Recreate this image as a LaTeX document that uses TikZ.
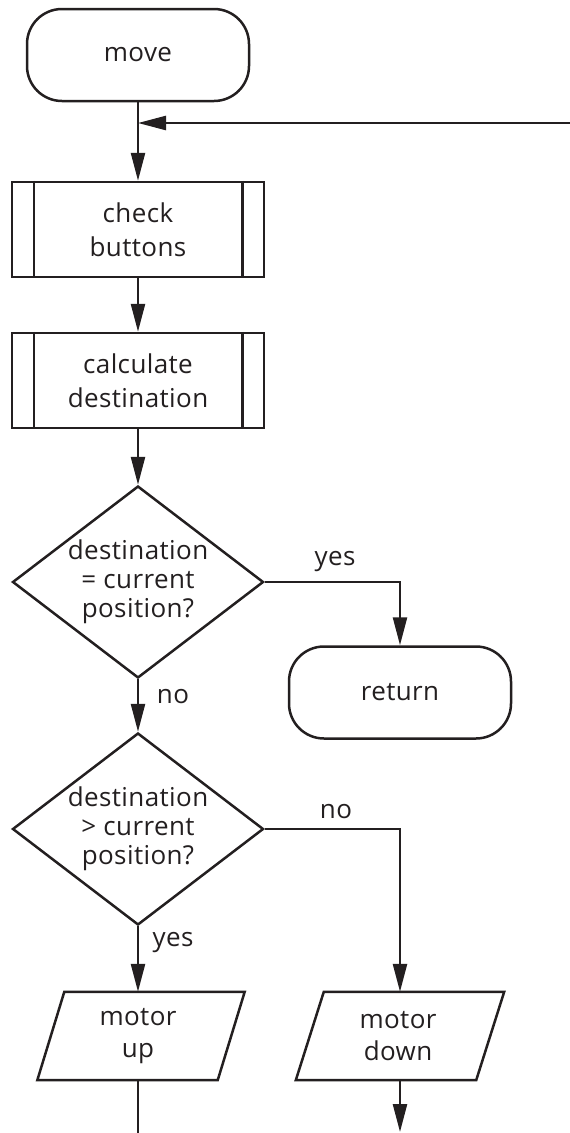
\documentclass[tikz,border=0pt]{standalone}
\usepackage{fontspec}
\setmainfont{Open Sans}[LetterSpace=1.5]
\usetikzlibrary{shapes.geometric,arrows.meta}
\definecolor{ink}{HTML}{231F20}
\tikzset{
  ln/.style={draw=ink, line width=2.5pt},
  arr/.style={ln, -{Triangle[length=28pt,width=14pt]}},
  txt/.style={text=ink, align=center, font=\fontsize{26}{34}\selectfont},
  term/.style={txt, ln, rectangle, rounded corners=35pt, minimum width=222pt, minimum height=92pt, inner sep=0pt},
  proc/.style={txt, ln, rectangle, minimum width=252pt, minimum height=95pt, inner sep=0pt},
  decision/.style={ln, diamond, minimum width=251pt, minimum height=192pt, inner sep=0pt},
  dtext/.style={txt, font=\fontsize{26}{29}\selectfont, inner sep=0pt},
  iotext/.style={txt, font=\fontsize{26}{32}\selectfont, inner sep=0pt},
  iobox/.style={rectangle, minimum width=180pt, minimum height=88pt, inner sep=0pt},
  lbl/.style={text=ink, font=\fontsize{26}{29}\selectfont, inner sep=0pt}
}
\begin{document}
\begin{tikzpicture}[x=1pt,y=-1pt]
\useasboundingbox (0,0) rectangle (570,1133);
% nodes
\node[term] (move) at (138,55) {move};
\node[proc] (check) at (138,229.5) {check\\buttons};
\node[proc] (calc) at (138,380.5) {calculate\\destination};
\node[decision] (d1) at (138,582) {};
\node[dtext] (d1t) at (138,582) {destination\\= current\\position?};
\node[term] (ret) at (400,692.5) {return};
\node[decision] (d2) at (138,829) {};
\node[dtext] (d2t) at (138,829) {destination\\> current\\position?};
\node[iobox] (mu) at (141,1036) {};
\node[iotext] (mut) at (138,1036) {motor\\up};
\node[iobox] (md) at (400,1036) {};
\node[iotext] (mdt) at (398,1036) {motor\\down};
% parallelograms
\draw[ln] ([xshift=13.5pt]mu.north west) -- ([xshift=13.5pt]mu.north east)
  -- ([xshift=-13.5pt]mu.south east) -- ([xshift=-13.5pt]mu.south west) -- cycle;
\draw[ln] ([xshift=14pt]md.north west) -- ([xshift=14pt]md.north east)
  -- ([xshift=-14pt]md.south east) -- ([xshift=-14pt]md.south west) -- cycle;
% predefined process side bars
\foreach \n in {check,calc}{
  \draw[ln] ([xshift=23pt]\n.north west) -- ([xshift=23pt]\n.south west);
  \draw[ln] ([xshift=-23pt]\n.north east) -- ([xshift=-23pt]\n.south east);
}
% coordinates
\coordinate (loopin) at (570,123);
\coordinate (join) at (138,123);
\coordinate (endL) at (138,1133);
\coordinate (endR) at (400,1132);
% connectors
\draw[arr] (move.south) -- (check.north);
\draw[arr] (loopin) -- (join);
\draw[arr] (check.south) -- (calc.north);
\draw[arr] (calc.south) -- (d1.north);
\draw[arr] (d1.east) -| (ret.north);
\draw[arr] (d1.south) -- (d2.north);
\draw[arr] (d2.east) -| (md.north);
\draw[arr] (d2.south) -- (d2.south |- mu.north);
\draw[ln] (d2.south |- mu.south) -- (endL);
\draw[arr] (md.south) -- (endR);
% labels
\node[lbl] (l1) at (335,562) {yes};
\node[lbl] (l2) at (173,697) {no};
\node[lbl] (l3) at (336,812) {no};
\node[lbl] (l4) at (173,943) {yes};
\end{tikzpicture}
\end{document}
